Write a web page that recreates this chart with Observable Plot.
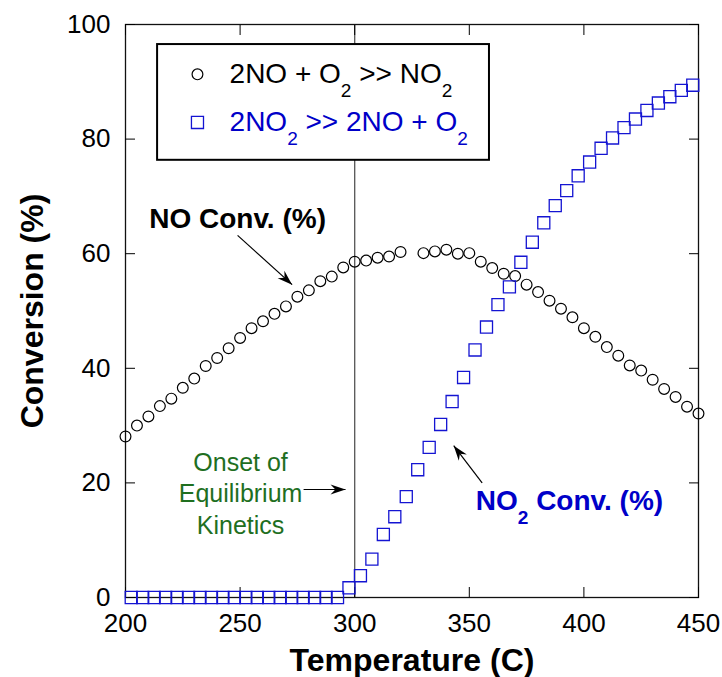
<!DOCTYPE html>
<html>
<head>
<meta charset="utf-8">
<script src="https://cdn.jsdelivr.net/npm/d3@7"></script>
<script src="https://cdn.jsdelivr.net/npm/@observablehq/plot@0.6"></script>
<style>
  body { margin: 0; background: #fff; }
</style>
</head>
<body>
<div id="chart"></div>
<script>
// NO oxidation (2NO + O2 >> NO2): temperature (C) and conversion (%)
const noTemp = [200, 205, 210, 215, 220, 225, 230, 235, 240, 245, 250, 255, 260, 265, 270, 275, 280, 285, 290, 295, 300, 305, 310, 315, 320,
                330, 335, 340, 345, 350, 355, 360, 365, 370, 375, 380, 385, 390, 395, 400, 405, 410, 415, 420, 425, 430, 435, 440, 445, 450];
const noConv = [28.1, 30.0, 31.6, 33.4, 34.7, 36.6, 38.2, 40.4, 41.8, 43.5, 45.3, 47.0, 48.2, 49.5, 50.8, 52.5, 53.6, 55.2, 56.0, 57.6, 58.6, 58.8, 59.3, 59.5, 60.3,
                60.1, 60.4, 60.7, 60.0, 60.1, 58.6, 57.5, 56.5, 56.1, 54.6, 53.3, 51.8, 50.4, 48.9, 47.0, 45.5, 43.7, 42.2, 40.5, 39.6, 38.0, 36.4, 35.0, 33.3, 32.1];

// NO2 decomposition (2NO2 >> 2NO + O2)
const no2Temp = [202.5, 207.5, 212.5, 217.5, 222.5, 227.5, 232.5, 237.5, 242.5, 247.5, 252.5, 257.5, 262.5, 267.5, 272.5, 277.5, 282.5, 287.5, 292.5,
                 297.5, 302.5, 307.5, 312.5, 317.5, 322.5, 327.5, 332.5, 337.5, 342.5, 347.5, 352.5, 357.5, 362.5, 367.5, 372.5, 377.5, 382.5, 387.5,
                 392.5, 397.5, 402.5, 407.5, 412.5, 417.5, 422.5, 427.5, 432.5, 437.5, 442.5, 447.5];
const no2Conv = [0, 0, 0, 0, 0, 0, 0, 0, 0, 0, 0, 0, 0, 0, 0, 0, 0, 0, 0,
                 1.7, 3.8, 6.7, 11.0, 14.1, 17.6, 22.3, 26.2, 30.2, 34.2, 38.4, 43.2, 47.2, 51.1, 54.2, 58.5, 62.0, 65.4, 68.4,
                 71.0, 73.6, 76.0, 78.4, 80.2, 82.0, 83.5, 85.0, 86.3, 87.4, 88.5, 89.4];

const xTicks = [200, 250, 300, 350, 400, 450];
const yTicks = [0, 20, 40, 60, 80, 100];
const onsetTemp = [300];

const seriesNames = ["2NO + O_2 >> NO_2", "2NO_2 >> 2NO + O_2"];
const xTitle = "Temperature (C)";
const yTitle = "Conversion (%)";

const blue = "#1414d2";
const labelBlue = "#0000c8";
const green = "#1f6f1f";

const noData = noTemp.map((t, i) => ({t, v: noConv[i]}));
const no2Data = no2Temp.map((t, i) => ({t, v: no2Conv[i]}));

// annotation arrows (data coordinates), tip at (x2, y2)
const arrows = [
  {x1: 248.9, y1: 63.2, x2: 272.7, y2: 54.6},
  {x1: 277.7, y1: 18.85, x2: 296.0, y2: 18.85},
  {x1: 355.6, y1: 20.0, x2: 343.2, y2: 26.5}
];

// filled "stealth" arrowhead, tip at the origin pointing up
const stealth = {
  draw(ctx, size) {
    const s = Math.sqrt(size / Math.PI);
    ctx.moveTo(0, 0);
    ctx.lineTo(s * 0.42, s * 1.25);
    ctx.lineTo(0, s * 0.85);
    ctx.lineTo(-s * 0.42, s * 1.25);
    ctx.closePath();
  }
};

function build(angles) {
  const heads = arrows.map((a, i) => ({...a, angle: angles[i]}));
  return Plot.plot({
    width: 722,
    height: 677,
    marginLeft: 125,
    marginRight: 24,
    marginTop: 24,
    marginBottom: 80,
    style: {fontFamily: "'Liberation Sans', Arial, Helvetica, sans-serif", background: "white", color: "black", overflow: "visible"},
    x: {domain: [200, 450]},
    y: {domain: [0, 100]},
    marks: [
      Plot.ruleX(onsetTemp, {stroke: "#555", strokeWidth: 1.3}),
      Plot.frame({stroke: "#111", strokeWidth: 1.3}),
      Plot.axisX({anchor: "bottom", ticks: xTicks, tickSize: -10, tickPadding: 26, fontSize: 26, label: null, tickFormat: d => String(d)}),
      Plot.axisX({anchor: "top", ticks: xTicks, tickSize: -10, tickFormat: () => "", label: null}),
      Plot.axisY({anchor: "left", ticks: yTicks, tickSize: -10, tickPadding: 25, fontSize: 26, label: null, tickFormat: d => String(d)}),
      Plot.axisY({anchor: "right", ticks: yTicks, tickSize: -10, tickFormat: () => "", label: null}),
      Plot.dot(noData, {x: "t", y: "v", symbol: "circle", r: 5.4, stroke: "black", strokeWidth: 1.2, fill: "none"}),
      Plot.dot(no2Data, {x: "t", y: "v", symbol: "square", r: 6.8, stroke: blue, strokeWidth: 1.3, fill: "none"}),
      // legend box
      Plot.rect([{x1: 214.0, x2: 358.8, y1: 76.3, y2: 96.5}], {x1: "x1", x2: "x2", y1: "y1", y2: "y2", fill: "white", stroke: "black", strokeWidth: 2}),
      Plot.dot([{x: 231.4, y: 91.3}], {x: "x", y: "y", symbol: "circle", r: 5.4, stroke: "black", strokeWidth: 1.2, fill: "none"}),
      Plot.dot([{x: 231.4, y: 82.9}], {x: "x", y: "y", symbol: "square", r: 6.8, stroke: blue, strokeWidth: 1.3, fill: "none"}),
      Plot.text([{x: 245.4, y: 91.3, s: seriesNames[0]}], {x: "x", y: "y", text: "s", textAnchor: "start", lineAnchor: "middle", fontSize: 28, fill: "black"}),
      Plot.text([{x: 245.4, y: 82.9, s: seriesNames[1]}], {x: "x", y: "y", text: "s", textAnchor: "start", lineAnchor: "middle", fontSize: 28, fill: labelBlue}),
      // annotations
      Plot.text([{x: 248.9, y: 66.1, s: "NO Conv. (%)"}], {x: "x", y: "y", text: "s", lineAnchor: "middle", fontSize: 28, fontWeight: "bold", fill: "black"}),
      Plot.text([{x: 393.7, y: 16.9, s: "NO_2 Conv. (%)"}], {x: "x", y: "y", text: "s", lineAnchor: "middle", fontSize: 28, fontWeight: "bold", fill: labelBlue}),
      Plot.text([{x: 250.2, y: 18.4, s: "Onset of\nEquilibrium\nKinetics"}], {x: "x", y: "y", text: "s", lineAnchor: "middle", lineHeight: 1.26, fontSize: 25, fill: green}),
      Plot.link(arrows, {x1: "x1", y1: "y1", x2: "x2", y2: "y2", stroke: "black", strokeWidth: 1.2}),
      Plot.dot(heads, {x: "x2", y: "y2", symbol: stealth, r: 12, fill: "black", stroke: "none", rotate: "angle"}),
      // axis titles
      Plot.text([xTitle], {frameAnchor: "bottom", dy: 63, lineAnchor: "middle", textAnchor: "middle", fontSize: 32, fontWeight: "bold", text: d => d}),
      Plot.text([yTitle], {frameAnchor: "left", dx: -93, rotate: -90, lineAnchor: "middle", textAnchor: "middle", fontSize: 32, fontWeight: "bold", text: d => d})
    ]
  });
}

// compute arrowhead orientations in screen space from the plot's scales
const probe = build(arrows.map(() => 0));
const sx = probe.scale("x"), sy = probe.scale("y");
const angles = arrows.map(a => {
  const dx = sx.apply(a.x2) - sx.apply(a.x1);
  const dy = sy.apply(a.y2) - sy.apply(a.y1);
  return Math.atan2(dx, -dy) * 180 / Math.PI;
});

const chart = build(angles);
document.getElementById("chart").append(chart);

// render "_2" as a lowered, smaller subscript
d3.select(chart).selectAll("text").each(function() {
  const el = this;
  if (el.querySelector("tspan")) return;
  const s = el.textContent;
  if (!s.includes("_")) return;
  const F = parseFloat(getComputedStyle(el).fontSize);
  const parts = s.split(/_(\d)/);
  el.textContent = "";
  let lowered = false;
  parts.forEach((p, i) => {
    if (!p) return;
    const t = d3.select(el).append("tspan").text(p);
    if (i % 2 === 1) {
      t.attr("font-size", (0.68 * F) + "px").attr("dy", 0.5 * F);
      lowered = true;
    } else if (lowered) {
      t.attr("dy", -0.5 * F);
      lowered = false;
    }
  });
});
</script>
</body>
</html>
